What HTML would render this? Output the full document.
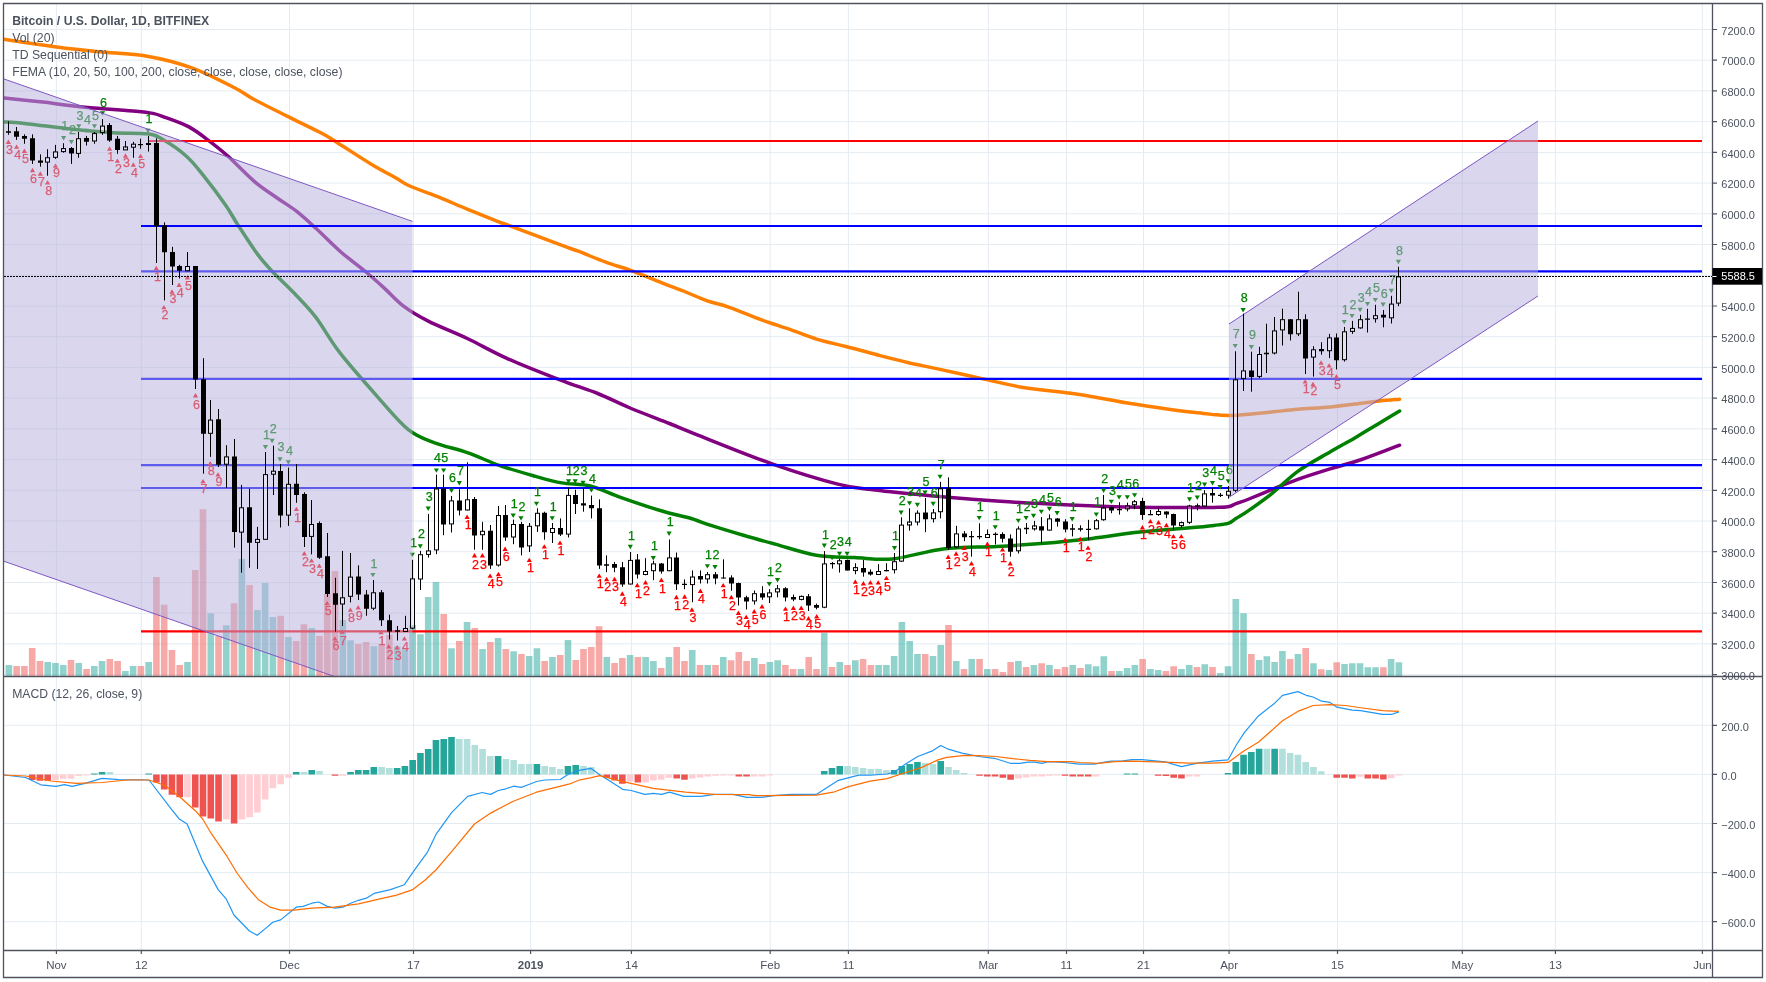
<!DOCTYPE html><html><head><meta charset="utf-8"><style>html,body{margin:0;padding:0;background:#fff;width:1766px;height:982px;overflow:hidden}</style></head><body><svg width="1766" height="982" viewBox="0 0 1766 982" style="display:block;font-family:'Liberation Sans', sans-serif;will-change:transform"><rect x="0" y="0" width="1766" height="982" fill="#ffffff"/><defs><clipPath id="cp"><rect x="4" y="4" width="1708" height="672"/></clipPath><clipPath id="cm"><rect x="4" y="677" width="1708" height="273"/></clipPath></defs><path d="M56.4 4V950 M141.3 4V950 M289.5 4V950 M413.5 4V950 M530.6 4V950 M631.4 4V950 M770.2 4V950 M848.4 4V950 M988.3 4V950 M1066.5 4V950 M1143.5 4V950 M1229.1 4V950 M1337.5 4V950 M1462.3 4V950 M1555.4 4V950 M1702.4 4V950 M4 674.6H1712 M4 643.9H1712 M4 613.2H1712 M4 582.5H1712 M4 551.7H1712 M4 521.0H1712 M4 490.3H1712 M4 459.6H1712 M4 428.9H1712 M4 398.1H1712 M4 367.4H1712 M4 336.7H1712 M4 306.0H1712 M4 275.3H1712 M4 244.5H1712 M4 213.8H1712 M4 183.1H1712 M4 152.4H1712 M4 121.7H1712 M4 90.9H1712 M4 60.2H1712 M4 29.5H1712 M4 725.3H1712 M4 774.4H1712 M4 823.5H1712 M4 872.6H1712 M4 921.7H1712" stroke="#e4ecf2" stroke-width="1" fill="none"/><g clip-path="url(#cp)"><path d="M5.58 665.0H12.18V676H5.58ZM44.41 661.9H51.01V676H44.41ZM52.17 662.9H58.77V676H52.17ZM59.94 665.0H66.54V676H59.94ZM75.47 662.9H82.07V676H75.47ZM91.00 665.9H97.60V676H91.00ZM98.76 660.9H105.36V676H98.76ZM122.06 670.9H128.66V676H122.06ZM129.83 665.9H136.43V676H129.83ZM145.36 661.9H151.96V676H145.36ZM184.18 661.9H190.78V676H184.18ZM207.48 613.3H214.08V676H207.48ZM223.01 625.2H229.61V676H223.01ZM238.54 559.0H245.14V676H238.54ZM254.07 610.0H260.67V676H254.07ZM261.84 583.0H268.44V676H261.84ZM269.60 617.0H276.20V676H269.60ZM285.13 637.0H291.73V676H285.13ZM308.43 628.0H315.03V676H308.43ZM339.49 620.0H346.09V676H339.49ZM347.26 640.2H353.86V676H347.26ZM370.55 646.2H377.15V676H370.55ZM393.85 646.2H400.45V676H393.85ZM401.61 648.8H408.21V676H401.61ZM409.38 625.1H415.98V676H409.38ZM417.14 634.2H423.74V676H417.14ZM424.91 597.1H431.51V676H424.91ZM432.67 582.1H439.27V676H432.67ZM448.20 648.2H454.80V676H448.20ZM463.74 622.1H470.34V676H463.74ZM479.27 649.0H485.87V676H479.27ZM494.80 638.1H501.40V676H494.80ZM510.33 651.2H516.93V676H510.33ZM525.86 656.1H532.46V676H525.86ZM533.62 648.2H540.22V676H533.62ZM549.15 657.0H555.75V676H549.15ZM564.68 640.1H571.28V676H564.68ZM603.51 657.0H610.11V676H603.51ZM626.81 655.0H633.41V676H626.81ZM642.34 657.0H648.94V676H642.34ZM650.10 661.0H656.70V676H650.10ZM665.63 657.0H672.23V676H665.63ZM688.93 650.1H695.53V676H688.93ZM704.46 665.1H711.06V676H704.46ZM719.99 657.0H726.59V676H719.99ZM751.05 658.1H757.65V676H751.05ZM766.58 662.1H773.18V676H766.58ZM774.35 660.2H780.95V676H774.35ZM797.65 669.0H804.25V676H797.65ZM820.94 632.8H827.54V676H820.94ZM836.47 662.1H843.07V676H836.47ZM852.00 660.2H858.60V676H852.00ZM875.30 665.1H881.90V676H875.30ZM883.06 665.1H889.66V676H883.06ZM890.83 656.0H897.43V676H890.83ZM898.59 622.1H905.19V676H898.59ZM906.36 641.0H912.96V676H906.36ZM914.13 654.0H920.73V676H914.13ZM929.66 656.0H936.26V676H929.66ZM937.42 645.0H944.02V676H937.42ZM952.95 661.0H959.55V676H952.95ZM968.48 659.0H975.08V676H968.48ZM984.01 669.0H990.61V676H984.01ZM1015.07 661.0H1021.67V676H1015.07ZM1030.61 665.1H1037.21V676H1030.61ZM1046.14 665.1H1052.74V676H1046.14ZM1069.43 665.1H1076.03V676H1069.43ZM1084.96 664.2H1091.56V676H1084.96ZM1092.73 666.2H1099.33V676H1092.73ZM1100.49 656.2H1107.09V676H1100.49ZM1116.02 671.0H1122.62V676H1116.02ZM1123.79 668.1H1130.39V676H1123.79ZM1131.55 665.1H1138.15V676H1131.55ZM1147.09 669.0H1153.69V676H1147.09ZM1154.85 670.1H1161.45V676H1154.85ZM1178.15 669.0H1184.75V676H1178.15ZM1185.91 665.1H1192.51V676H1185.91ZM1201.44 664.2H1208.04V676H1201.44ZM1216.97 673.1H1223.57V676H1216.97ZM1224.74 666.2H1231.34V676H1224.74ZM1232.50 599.1H1239.10V676H1232.50ZM1240.27 613.2H1246.87V676H1240.27ZM1255.80 660.1H1262.40V676H1255.80ZM1263.57 656.2H1270.17V676H1263.57ZM1271.33 662.0H1277.93V676H1271.33ZM1279.10 651.1H1285.70V676H1279.10ZM1294.63 654.1H1301.23V676H1294.63ZM1310.16 663.2H1316.76V676H1310.16ZM1325.69 670.1H1332.29V676H1325.69ZM1341.22 664.1H1347.82V676H1341.22ZM1348.98 663.2H1355.58V676H1348.98ZM1356.75 663.2H1363.35V676H1356.75ZM1364.51 667.2H1371.11V676H1364.51ZM1372.28 667.2H1378.88V676H1372.28ZM1387.81 659.1H1394.41V676H1387.81ZM1395.58 662.2H1402.18V676H1395.58Z" fill="#26a69a" fill-opacity="0.5"/><path d="M13.35 665.9H19.95V676H13.35ZM21.11 665.9H27.71V676H21.11ZM28.88 648.0H35.48V676H28.88ZM36.64 661.0H43.24V676H36.64ZM67.70 659.9H74.30V676H67.70ZM83.23 669.0H89.83V676H83.23ZM106.53 659.0H113.13V676H106.53ZM114.30 661.0H120.90V676H114.30ZM137.59 665.9H144.19V676H137.59ZM153.12 577.0H159.72V676H153.12ZM160.89 604.8H167.49V676H160.89ZM168.65 650.0H175.25V676H168.65ZM176.42 665.0H183.02V676H176.42ZM191.95 570.0H198.55V676H191.95ZM199.71 509.2H206.31V676H199.71ZM215.24 636.0H221.84V676H215.24ZM230.78 603.2H237.38V676H230.78ZM246.31 584.9H252.91V676H246.31ZM277.37 615.8H283.97V676H277.37ZM292.90 641.0H299.50V676H292.90ZM300.66 624.3H307.26V676H300.66ZM316.19 636.0H322.79V676H316.19ZM323.96 593.8H330.56V676H323.96ZM331.72 571.0H338.32V676H331.72ZM355.02 643.9H361.62V676H355.02ZM362.79 642.0H369.39V676H362.79ZM378.32 644.4H384.92V676H378.32ZM386.08 634.7H392.68V676H386.08ZM440.44 614.0H447.04V676H440.44ZM455.97 641.0H462.57V676H455.97ZM471.50 628.0H478.10V676H471.50ZM487.03 642.0H493.63V676H487.03ZM502.56 649.0H509.16V676H502.56ZM518.09 654.0H524.69V676H518.09ZM541.39 661.0H547.99V676H541.39ZM556.92 655.0H563.52V676H556.92ZM572.45 660.0H579.05V676H572.45ZM580.22 649.0H586.82V676H580.22ZM587.98 647.0H594.58V676H587.98ZM595.75 626.2H602.35V676H595.75ZM611.28 662.9H617.88V676H611.28ZM619.04 658.0H625.64V676H619.04ZM634.57 657.0H641.17V676H634.57ZM657.87 668.0H664.47V676H657.87ZM673.40 647.1H680.00V676H673.40ZM681.17 661.0H687.77V676H681.17ZM696.70 665.1H703.30V676H696.70ZM712.23 665.1H718.83V676H712.23ZM727.76 660.2H734.36V676H727.76ZM735.52 652.1H742.12V676H735.52ZM743.29 661.0H749.89V676H743.29ZM758.82 664.1H765.42V676H758.82ZM782.11 665.1H788.71V676H782.11ZM789.88 669.0H796.48V676H789.88ZM805.41 657.0H812.01V676H805.41ZM813.18 669.0H819.78V676H813.18ZM828.71 667.1H835.31V676H828.71ZM844.24 665.1H850.84V676H844.24ZM859.77 659.0H866.37V676H859.77ZM867.53 665.1H874.13V676H867.53ZM921.89 654.0H928.49V676H921.89ZM945.19 625.0H951.79V676H945.19ZM960.72 669.0H967.32V676H960.72ZM976.25 659.0H982.85V676H976.25ZM991.78 669.0H998.38V676H991.78ZM999.54 672.0H1006.14V676H999.54ZM1007.31 662.1H1013.91V676H1007.31ZM1022.84 667.1H1029.44V676H1022.84ZM1038.37 663.2H1044.97V676H1038.37ZM1053.90 669.0H1060.50V676H1053.90ZM1061.67 667.1H1068.27V676H1061.67ZM1077.20 668.1H1083.80V676H1077.20ZM1108.26 671.0H1114.86V676H1108.26ZM1139.32 659.0H1145.92V676H1139.32ZM1162.62 671.0H1169.22V676H1162.62ZM1170.38 666.2H1176.98V676H1170.38ZM1193.68 667.1H1200.28V676H1193.68ZM1209.21 667.1H1215.81V676H1209.21ZM1248.03 654.1H1254.63V676H1248.03ZM1286.86 659.1H1293.46V676H1286.86ZM1302.39 648.1H1308.99V676H1302.39ZM1317.92 669.2H1324.52V676H1317.92ZM1333.45 662.2H1340.05V676H1333.45ZM1380.05 667.2H1386.65V676H1380.05Z" fill="#ef5350" fill-opacity="0.5"/><path d="M4.2,39.3C12.9,40.6 40.8,44.8 56.6,46.9C72.4,49.0 84.0,50.2 99.1,51.7C114.2,53.2 131.6,53.5 147.2,56.2C162.8,58.9 177.9,62.8 192.5,68.1C207.1,73.4 225.0,82.9 235.0,88.0C245.0,93.1 243.8,93.8 252.4,98.5C261.0,103.2 275.2,110.2 286.6,115.9C298.0,121.6 312.7,128.5 320.8,132.8C328.9,137.1 326.9,136.2 335.5,141.5C344.1,146.8 361.9,158.6 372.1,164.7C382.3,170.8 390.4,174.7 396.5,178.2C402.6,181.7 401.4,182.2 408.7,185.5C415.9,188.8 430.3,193.8 440.0,197.7C449.7,201.6 457.1,205.0 467.1,209.1C477.1,213.2 493.4,219.8 500.0,222.4C506.6,225.0 496.4,220.7 506.4,224.4C516.4,228.1 548.0,240.2 560.0,244.7C572.0,249.2 570.7,248.3 578.3,251.2C585.9,254.1 596.6,258.8 605.8,262.2C615.0,265.6 624.1,267.9 633.3,271.3C642.5,274.7 652.2,278.9 660.8,282.3C669.3,285.7 677.0,288.4 684.6,291.5C692.2,294.6 699.3,298.0 706.6,300.6C713.9,303.2 719.4,303.9 728.6,307.1C737.8,310.3 751.5,316.2 761.6,319.9C771.7,323.6 779.9,325.9 789.1,329.1C798.3,332.3 807.1,336.2 816.6,339.1C826.1,342.0 835.3,343.8 845.9,346.5C856.5,349.2 869.7,352.9 880.0,355.6C890.3,358.3 897.5,360.2 907.5,362.5C917.5,364.8 926.9,366.5 940.0,369.4C953.1,372.2 972.5,376.6 986.4,379.6C1000.3,382.6 1008.0,385.0 1023.5,387.5C1039.0,390.0 1062.3,391.9 1079.3,394.5C1096.3,397.1 1110.2,400.2 1125.7,402.8C1141.2,405.4 1159.2,408.0 1172.1,409.8C1185.0,411.6 1195.9,412.6 1203.2,413.4C1210.5,414.2 1211.7,414.4 1216.0,414.8C1220.3,415.2 1225.8,415.4 1229.3,415.5C1232.8,415.6 1233.7,415.4 1237.0,415.2C1240.3,415.0 1242.9,414.8 1248.9,414.2C1255.0,413.6 1265.2,412.6 1273.3,411.8C1281.4,411.0 1288.3,410.1 1297.8,409.3C1307.3,408.5 1320.9,407.8 1330.4,406.9C1339.9,406.0 1346.7,405.1 1354.8,404.1C1362.9,403.1 1371.8,401.7 1379.3,400.9C1386.8,400.1 1396.2,399.5 1399.6,399.2" fill="none" stroke="#ff8000" stroke-width="3.5" stroke-linejoin="round" stroke-linecap="round"/><path d="M4.2,97.9C10.6,98.6 29.0,100.5 42.5,102.1C56.0,103.6 69.3,105.7 84.9,107.2C100.5,108.7 124.6,110.2 135.9,111.2C147.2,112.2 148.2,112.4 152.9,113.4C157.7,114.4 158.4,114.8 164.4,117.1C170.4,119.3 181.6,123.0 188.9,126.9C196.2,130.8 201.9,135.4 208.4,140.3C214.9,145.2 220.3,149.3 228.0,156.2C235.7,163.1 246.7,174.9 254.8,181.8C262.9,188.7 269.9,192.8 276.8,197.7C283.7,202.6 289.9,206.1 296.4,211.2C302.9,216.3 308.6,221.6 315.9,228.3C323.2,235.0 332.1,244.4 340.3,251.5C348.5,258.6 357.5,264.9 364.8,271.0C372.1,277.1 377.8,282.2 384.3,288.1C390.8,294.0 396.6,300.9 403.9,306.4C411.2,311.9 417.7,315.8 428.3,321.1C438.9,326.5 454.3,332.3 467.3,338.5C480.3,344.7 491.1,351.2 506.4,358.1C521.7,365.0 544.1,373.7 559.3,379.6C574.5,385.5 586.1,388.9 597.7,393.5C609.3,398.1 617.0,402.5 628.9,407.5C640.8,412.5 657.8,418.9 669.4,423.5C681.0,428.1 681.3,428.5 698.5,435.3C715.7,442.1 749.6,456.0 772.8,464.1C796.0,472.2 820.8,479.8 837.8,484.1C854.8,488.4 859.5,488.2 875.0,490.1C890.5,492.0 909.8,493.8 930.7,495.7C951.6,497.6 977.1,499.8 1000.3,501.3C1023.5,502.9 1046.8,504.0 1070.0,505.0C1093.2,506.0 1119.0,506.9 1139.6,507.3C1160.2,507.7 1181.3,507.5 1193.7,507.5C1206.1,507.5 1208.3,507.5 1214.0,507.4C1219.7,507.3 1224.3,507.4 1228.0,506.8C1231.7,506.2 1232.5,505.0 1236.0,503.7C1239.5,502.4 1242.7,501.5 1248.9,499.0C1255.1,496.5 1265.2,492.2 1273.3,488.9C1281.4,485.6 1288.3,482.8 1297.8,479.4C1307.3,476.0 1319.5,472.2 1330.4,468.8C1341.3,465.4 1351.5,462.9 1363.0,459.0C1374.5,455.1 1393.5,447.5 1399.6,445.2" fill="none" stroke="#800080" stroke-width="3.5" stroke-linejoin="round" stroke-linecap="round"/><path d="M4.2,121.9C8.2,122.2 17.2,122.7 28.3,123.9C39.4,125.1 56.6,127.5 70.8,129.0C85.0,130.5 100.6,131.9 113.3,132.7C126.0,133.5 139.1,132.7 147.2,133.8C155.3,134.9 155.5,135.4 162.0,139.1C168.5,142.8 179.5,150.1 186.4,156.2C193.3,162.3 197.0,167.5 203.5,175.7C210.0,183.8 219.8,196.9 225.5,205.1C231.2,213.2 232.4,216.5 237.7,224.6C243.0,232.7 251.6,246.2 257.3,253.9C263.0,261.6 265.4,264.1 271.9,271.0C278.4,277.9 289.1,287.8 296.4,295.5C303.7,303.2 308.6,307.8 315.9,317.4C323.2,327.0 329.6,339.6 340.2,353.2C350.8,366.8 367.9,386.0 379.3,398.8C390.7,411.6 399.4,422.5 408.6,429.8C417.8,437.1 424.9,439.0 434.7,442.8C444.5,446.6 456.4,448.8 467.3,452.6C478.2,456.4 488.5,461.6 499.9,465.6C511.3,469.6 525.4,473.5 535.7,476.4C546.0,479.3 552.6,481.3 561.8,482.9C571.0,484.5 581.3,483.8 591.1,486.2C600.9,488.6 608.5,493.1 620.5,497.3C632.5,501.5 651.4,507.9 662.8,511.3C674.2,514.7 680.8,515.4 688.9,517.8C697.0,520.2 702.6,522.8 711.7,525.7C720.8,528.6 732.8,532.2 743.4,535.3C754.0,538.4 762.9,540.8 775.1,544.1C787.3,547.4 803.2,553.0 816.4,555.2C829.6,557.4 841.7,556.9 854.4,557.5C867.1,558.1 877.7,560.4 892.5,559.0C907.3,557.6 925.8,551.0 943.2,548.9C960.6,546.8 980.2,547.3 997.1,546.4C1014.0,545.5 1028.9,544.5 1044.7,543.2C1060.5,541.9 1076.4,540.2 1092.2,538.4C1108.0,536.5 1123.9,533.8 1139.8,532.1C1155.7,530.4 1175.0,529.1 1187.4,528.0C1199.8,526.9 1207.2,526.2 1214.0,525.4C1220.8,524.6 1224.3,524.5 1228.0,523.4C1231.7,522.2 1232.5,520.7 1236.0,518.5C1239.5,516.3 1242.7,514.8 1248.9,510.4C1255.1,506.0 1265.2,498.9 1273.3,492.4C1281.4,485.9 1288.3,478.1 1297.8,471.3C1307.3,464.5 1320.9,457.3 1330.4,451.7C1339.9,446.1 1346.7,442.6 1354.8,437.9C1362.9,433.1 1371.8,427.7 1379.3,423.2C1386.8,418.7 1396.2,413.0 1399.6,411.0" fill="none" stroke="#008000" stroke-width="3.5" stroke-linejoin="round" stroke-linecap="round"/><path d="M149 141H1702" stroke="#ff0000" stroke-width="2.2"/><path d="M141 271.4H1702" stroke="#0000ff" stroke-width="2.2"/><path d="M141 378.8H1702" stroke="#0000ff" stroke-width="2.2"/><path d="M141 465.1H1702" stroke="#0000ff" stroke-width="2.2"/><path d="M141 488H1702" stroke="#0000ff" stroke-width="2.2"/><path d="M141 631.3H1702" stroke="#ff0000" stroke-width="2.2"/><path d="M5.8 144.0L8.4 139.6L11.0 144.0ZM14.0 148.8L16.6 144.4L19.2 148.8ZM21.8 153.0L24.4 148.6L27.0 153.0ZM29.9 172.2L32.5 167.8L35.1 172.2ZM37.7 175.7L40.3 171.3L42.9 175.7ZM45.0 184.6L47.6 180.2L50.2 184.6ZM52.9 167.8L55.5 163.4L58.1 167.8ZM107.0 150.7L109.6 146.3L112.2 150.7ZM114.8 162.8L117.4 158.4L120.0 162.8ZM122.9 157.7L125.5 153.3L128.1 157.7ZM130.7 166.7L133.3 162.3L135.9 166.7ZM138.0 158.1L140.6 153.7L143.2 158.1ZM153.7 270.2L156.3 265.8L158.9 270.2ZM161.3 309.3L163.9 304.9L166.5 309.3ZM169.4 293.7L172.0 289.3L174.6 293.7ZM176.5 286.9L179.1 282.5L181.7 286.9ZM184.8 279.5L187.4 275.1L190.0 279.5ZM192.9 397.4L195.5 393.0L198.1 397.4ZM200.4 483.3L203.0 478.9L205.6 483.3ZM207.6 465.4L210.2 461.0L212.8 465.4ZM215.4 476.6L218.0 472.2L220.6 476.6ZM293.8 511.1L296.4 506.7L299.0 511.1ZM301.7 555.4L304.3 551.0L306.9 555.4ZM308.9 562.6L311.5 558.2L314.1 562.6ZM316.7 567.8L319.3 563.4L321.9 567.8ZM324.5 605.2L327.1 600.8L329.7 605.2ZM332.3 640.6L334.9 636.2L337.5 640.6ZM339.5 633.8L342.1 629.4L344.7 633.8ZM347.8 611.8L350.4 607.4L353.0 611.8ZM355.6 609.4L358.2 605.0L360.8 609.4ZM378.4 634.2L381.0 629.8L383.6 634.2ZM386.2 648.4L388.8 644.0L391.4 648.4ZM394.5 649.4L397.1 645.0L399.7 649.4ZM401.8 640.6L404.4 636.2L407.0 640.6ZM464.5 519.0L467.1 514.6L469.7 519.0ZM471.9 557.5L474.5 553.1L477.1 557.5ZM479.8 557.5L482.4 553.1L485.0 557.5ZM487.5 577.8L490.1 573.4L492.7 577.8ZM495.8 576.2L498.4 571.8L501.0 576.2ZM502.5 550.9L505.1 546.5L507.7 550.9ZM526.7 562.1L529.3 557.7L531.9 562.1ZM541.7 548.6L544.3 544.2L546.9 548.6ZM557.4 544.8L560.0 540.4L562.6 544.8ZM596.6 577.8L599.2 573.4L601.8 577.8ZM604.0 581.2L606.6 576.8L609.2 581.2ZM611.9 581.2L614.5 576.8L617.1 581.2ZM619.7 595.7L622.3 591.3L624.9 595.7ZM634.7 587.2L637.3 582.8L639.9 587.2ZM642.9 584.5L645.5 580.1L648.1 584.5ZM658.8 581.9L661.4 577.5L664.0 581.9ZM673.8 599.2L676.4 594.8L679.0 599.2ZM682.0 598.7L684.6 594.3L687.2 598.7ZM689.3 611.7L691.9 607.3L694.5 611.7ZM697.8 593.0L700.4 588.6L703.0 593.0ZM720.6 587.3L723.2 582.9L725.8 587.3ZM728.7 599.2L731.3 594.8L733.9 599.2ZM735.8 615.0L738.4 610.6L741.0 615.0ZM743.6 619.1L746.2 614.7L748.8 619.1ZM751.6 613.4L754.2 609.0L756.8 613.4ZM759.4 608.5L762.0 604.1L764.6 608.5ZM782.9 610.8L785.5 606.4L788.1 610.8ZM790.8 609.9L793.4 605.5L796.0 609.9ZM798.6 609.9L801.2 605.5L803.8 609.9ZM805.9 620.5L808.5 616.1L811.1 620.5ZM814.1 618.5L816.7 614.1L819.3 618.5ZM852.7 583.8L855.3 579.4L857.9 583.8ZM860.8 585.4L863.4 581.0L866.0 585.4ZM867.8 584.6L870.4 580.2L873.0 584.6ZM875.6 584.6L878.2 580.2L880.8 584.6ZM883.8 580.1L886.4 575.7L889.0 580.1ZM945.6 558.9L948.2 554.5L950.8 558.9ZM953.5 555.7L956.1 551.3L958.7 555.7ZM961.6 550.0L964.2 545.6L966.8 550.0ZM968.9 565.4L971.5 561.0L974.1 565.4ZM984.8 545.9L987.4 541.5L990.0 545.9ZM999.9 551.6L1002.5 547.2L1005.1 551.6ZM1007.6 565.4L1010.2 561.0L1012.8 565.4ZM1062.6 541.8L1065.2 537.4L1067.8 541.8ZM1077.6 541.0L1080.2 536.6L1082.8 541.0ZM1085.4 549.8L1088.0 545.4L1090.6 549.8ZM1139.8 529.4L1142.4 525.0L1145.0 529.4ZM1147.8 523.3L1150.4 518.9L1153.0 523.3ZM1155.9 524.5L1158.5 520.1L1161.1 524.5ZM1163.8 527.2L1166.4 522.8L1169.0 527.2ZM1170.8 538.3L1173.4 533.9L1176.0 538.3ZM1178.7 538.3L1181.3 533.9L1183.9 538.3ZM1302.6 383.6L1305.2 379.2L1307.8 383.6ZM1310.4 386.2L1313.0 381.8L1315.6 386.2ZM1318.5 364.7L1321.1 360.3L1323.7 364.7ZM1326.5 367.6L1329.1 363.2L1331.7 367.6ZM1333.8 378.5L1336.4 374.1L1339.0 378.5Z" fill="#ff0000"/><path d="M61.0 136.0L63.6 140.4L66.2 136.0ZM68.8 139.9L71.4 144.3L74.0 139.9ZM76.2 124.2L78.8 128.6L81.4 124.2ZM83.9 128.7L86.5 133.1L89.1 128.7ZM91.9 124.2L94.5 128.6L97.1 124.2ZM99.9 111.3L102.5 115.7L105.1 111.3ZM145.4 128.7L148.0 133.1L150.6 128.7ZM262.8 445.0L265.4 449.4L268.0 445.0ZM269.5 438.8L272.1 443.2L274.7 438.8ZM277.4 457.3L280.0 461.7L282.6 457.3ZM285.7 460.2L288.3 464.6L290.9 460.2ZM370.3 572.9L372.9 577.3L375.5 572.9ZM409.7 552.7L412.3 557.1L414.9 552.7ZM417.7 544.2L420.3 548.6L422.9 544.2ZM425.6 506.5L428.2 510.9L430.8 506.5ZM433.8 468.4L436.4 472.8L439.0 468.4ZM441.0 468.4L443.6 472.8L446.2 468.4ZM448.9 488.6L451.5 493.0L454.1 488.6ZM456.7 481.0L459.3 485.4L461.9 481.0ZM510.6 513.5L513.2 517.9L515.8 513.5ZM518.4 516.2L521.0 520.6L523.6 516.2ZM533.9 501.7L536.5 506.1L539.1 501.7ZM549.6 516.2L552.2 520.6L554.8 516.2ZM565.9 479.3L568.5 483.7L571.1 479.3ZM572.6 479.3L575.2 483.7L577.8 479.3ZM580.4 480.8L583.0 485.2L585.6 480.8ZM588.8 488.2L591.4 492.6L594.0 488.2ZM627.7 544.8L630.3 549.2L632.9 544.8ZM650.7 556.0L653.3 560.4L655.9 556.0ZM666.5 531.6L669.1 536.0L671.7 531.6ZM704.8 564.2L707.4 568.6L710.0 564.2ZM712.4 565.0L715.0 569.4L717.6 565.0ZM766.7 582.1L769.3 586.5L771.9 582.1ZM774.9 578.0L777.5 582.4L780.1 578.0ZM821.7 543.6L824.3 548.0L826.9 543.6ZM829.5 555.8L832.1 560.2L834.7 555.8ZM836.9 551.7L839.5 556.1L842.1 551.7ZM844.5 551.7L847.1 556.1L849.7 551.7ZM891.9 546.0L894.5 550.4L897.1 546.0ZM898.5 510.5L901.1 514.9L903.7 510.5ZM906.9 501.2L909.5 505.6L912.1 501.2ZM914.8 502.8L917.4 507.2L920.0 502.8ZM922.4 490.6L925.0 495.0L927.6 490.6ZM930.6 501.8L933.2 506.2L935.8 501.8ZM937.5 474.7L940.1 479.1L942.7 474.7ZM976.6 515.9L979.2 520.3L981.8 515.9ZM992.6 525.2L995.2 529.6L997.8 525.2ZM1015.7 518.7L1018.3 523.1L1020.9 518.7ZM1023.5 515.9L1026.1 520.3L1028.7 515.9ZM1030.9 513.8L1033.5 518.2L1036.1 513.8ZM1038.7 509.7L1041.3 514.1L1043.9 509.7ZM1046.8 506.8L1049.4 511.2L1052.0 506.8ZM1054.5 511.0L1057.1 515.4L1059.7 511.0ZM1069.6 517.0L1072.2 521.4L1074.8 517.0ZM1093.7 512.4L1096.3 516.8L1098.9 512.4ZM1101.0 488.6L1103.6 493.0L1106.2 488.6ZM1108.7 499.7L1111.3 504.1L1113.9 499.7ZM1116.5 495.2L1119.1 499.6L1121.7 495.2ZM1124.7 495.2L1127.3 499.6L1129.9 495.2ZM1132.0 493.2L1134.6 497.6L1137.2 493.2ZM1186.9 497.3L1189.5 501.7L1192.1 497.3ZM1194.7 495.6L1197.3 500.0L1199.9 495.6ZM1202.0 482.6L1204.6 487.0L1207.2 482.6ZM1209.9 481.0L1212.5 485.4L1215.1 481.0ZM1217.5 485.1L1220.1 489.5L1222.7 485.1ZM1225.7 479.3L1228.3 483.7L1230.9 479.3ZM1232.6 343.9L1235.2 348.3L1237.8 343.9ZM1240.5 308.1L1243.1 312.5L1245.7 308.1ZM1248.8 345.1L1251.4 349.5L1254.0 345.1ZM1341.6 319.9L1344.2 324.3L1346.8 319.9ZM1349.4 313.9L1352.0 318.3L1354.6 313.9ZM1357.5 307.8L1360.1 312.2L1362.7 307.8ZM1364.9 301.9L1367.5 306.3L1370.1 301.9ZM1372.7 297.9L1375.3 302.3L1377.9 297.9ZM1380.5 302.6L1383.1 307.0L1385.7 302.6ZM1388.7 288.8L1391.3 293.2L1393.9 288.8ZM1395.8 259.8L1398.4 264.2L1401.0 259.8Z" fill="#008000"/><g font-size="12.5" stroke-width="0.25" lengthAdjust="spacingAndGlyphs"><text x="6.0" y="154.4" fill="#ff0000" stroke="#ff0000" textLength="4.8">3</text><text x="14.2" y="159.4" fill="#ff0000" stroke="#ff0000" textLength="4.8">4</text><text x="22.0" y="163.4" fill="#ff0000" stroke="#ff0000" textLength="4.8">5</text><text x="30.1" y="182.9" fill="#ff0000" stroke="#ff0000" textLength="4.8">6</text><text x="37.9" y="185.7" fill="#ff0000" stroke="#ff0000" textLength="4.8">7</text><text x="45.2" y="194.7" fill="#ff0000" stroke="#ff0000" textLength="4.8">8</text><text x="53.1" y="177.3" fill="#ff0000" stroke="#ff0000" textLength="4.8">9</text><text x="107.2" y="161.1" fill="#ff0000" stroke="#ff0000" textLength="4.8">1</text><text x="115.0" y="172.8" fill="#ff0000" stroke="#ff0000" textLength="4.8">2</text><text x="123.1" y="167.2" fill="#ff0000" stroke="#ff0000" textLength="4.8">3</text><text x="130.9" y="176.8" fill="#ff0000" stroke="#ff0000" textLength="4.8">4</text><text x="138.2" y="167.8" fill="#ff0000" stroke="#ff0000" textLength="4.8">5</text><text x="153.9" y="281.3" fill="#ff0000" stroke="#ff0000" textLength="4.8">1</text><text x="161.5" y="319.4" fill="#ff0000" stroke="#ff0000" textLength="4.8">2</text><text x="169.6" y="303.3" fill="#ff0000" stroke="#ff0000" textLength="4.8">3</text><text x="176.7" y="297.4" fill="#ff0000" stroke="#ff0000" textLength="4.8">4</text><text x="185.0" y="289.8" fill="#ff0000" stroke="#ff0000" textLength="4.8">5</text><text x="193.1" y="408.6" fill="#ff0000" stroke="#ff0000" textLength="4.8">6</text><text x="200.6" y="493.1" fill="#ff0000" stroke="#ff0000" textLength="4.8">7</text><text x="207.8" y="475.4" fill="#ff0000" stroke="#ff0000" textLength="4.8">8</text><text x="215.6" y="486.4" fill="#ff0000" stroke="#ff0000" textLength="4.8">9</text><text x="294.0" y="521.8" fill="#ff0000" stroke="#ff0000" textLength="4.8">1</text><text x="301.9" y="566.2" fill="#ff0000" stroke="#ff0000" textLength="4.8">2</text><text x="309.1" y="572.9" fill="#ff0000" stroke="#ff0000" textLength="4.8">3</text><text x="316.9" y="577.8" fill="#ff0000" stroke="#ff0000" textLength="4.8">4</text><text x="324.7" y="615.4" fill="#ff0000" stroke="#ff0000" textLength="4.8">5</text><text x="332.5" y="650.4" fill="#ff0000" stroke="#ff0000" textLength="4.8">6</text><text x="339.7" y="644.6" fill="#ff0000" stroke="#ff0000" textLength="4.8">7</text><text x="348.0" y="622.2" fill="#ff0000" stroke="#ff0000" textLength="4.8">8</text><text x="355.8" y="619.5" fill="#ff0000" stroke="#ff0000" textLength="4.8">9</text><text x="378.6" y="645.1" fill="#ff0000" stroke="#ff0000" textLength="4.8">1</text><text x="386.4" y="658.7" fill="#ff0000" stroke="#ff0000" textLength="4.8">2</text><text x="394.7" y="659.8" fill="#ff0000" stroke="#ff0000" textLength="4.8">3</text><text x="402.0" y="650.6" fill="#ff0000" stroke="#ff0000" textLength="4.8">4</text><text x="464.7" y="529.4" fill="#ff0000" stroke="#ff0000" textLength="4.8">1</text><text x="472.1" y="568.7" fill="#ff0000" stroke="#ff0000" textLength="4.8">2</text><text x="480.0" y="568.7" fill="#ff0000" stroke="#ff0000" textLength="4.8">3</text><text x="487.7" y="587.8" fill="#ff0000" stroke="#ff0000" textLength="4.8">4</text><text x="496.0" y="586.0" fill="#ff0000" stroke="#ff0000" textLength="4.8">5</text><text x="502.7" y="560.9" fill="#ff0000" stroke="#ff0000" textLength="4.8">6</text><text x="526.9" y="572.1" fill="#ff0000" stroke="#ff0000" textLength="4.8">1</text><text x="541.9" y="558.7" fill="#ff0000" stroke="#ff0000" textLength="4.8">1</text><text x="557.6" y="554.7" fill="#ff0000" stroke="#ff0000" textLength="4.8">1</text><text x="596.8" y="587.8" fill="#ff0000" stroke="#ff0000" textLength="4.8">1</text><text x="604.2" y="591.2" fill="#ff0000" stroke="#ff0000" textLength="4.8">2</text><text x="612.1" y="591.2" fill="#ff0000" stroke="#ff0000" textLength="4.8">3</text><text x="619.9" y="605.7" fill="#ff0000" stroke="#ff0000" textLength="4.8">4</text><text x="634.9" y="598.4" fill="#ff0000" stroke="#ff0000" textLength="4.8">1</text><text x="643.1" y="595.2" fill="#ff0000" stroke="#ff0000" textLength="4.8">2</text><text x="659.0" y="592.7" fill="#ff0000" stroke="#ff0000" textLength="4.8">1</text><text x="674.0" y="609.9" fill="#ff0000" stroke="#ff0000" textLength="4.8">1</text><text x="682.2" y="609.0" fill="#ff0000" stroke="#ff0000" textLength="4.8">2</text><text x="689.5" y="622.1" fill="#ff0000" stroke="#ff0000" textLength="4.8">3</text><text x="698.0" y="603.3" fill="#ff0000" stroke="#ff0000" textLength="4.8">4</text><text x="720.8" y="598.4" fill="#ff0000" stroke="#ff0000" textLength="4.8">1</text><text x="728.9" y="609.9" fill="#ff0000" stroke="#ff0000" textLength="4.8">2</text><text x="736.0" y="624.5" fill="#ff0000" stroke="#ff0000" textLength="4.8">3</text><text x="743.8" y="628.6" fill="#ff0000" stroke="#ff0000" textLength="4.8">4</text><text x="751.8" y="623.7" fill="#ff0000" stroke="#ff0000" textLength="4.8">5</text><text x="759.6" y="618.8" fill="#ff0000" stroke="#ff0000" textLength="4.8">6</text><text x="783.1" y="620.7" fill="#ff0000" stroke="#ff0000" textLength="4.8">1</text><text x="791.0" y="620.2" fill="#ff0000" stroke="#ff0000" textLength="4.8">2</text><text x="798.8" y="620.2" fill="#ff0000" stroke="#ff0000" textLength="4.8">3</text><text x="806.1" y="629.2" fill="#ff0000" stroke="#ff0000" textLength="4.8">4</text><text x="814.3" y="628.4" fill="#ff0000" stroke="#ff0000" textLength="4.8">5</text><text x="852.9" y="594.2" fill="#ff0000" stroke="#ff0000" textLength="4.8">1</text><text x="861.0" y="595.8" fill="#ff0000" stroke="#ff0000" textLength="4.8">2</text><text x="868.0" y="595.0" fill="#ff0000" stroke="#ff0000" textLength="4.8">3</text><text x="875.8" y="595.0" fill="#ff0000" stroke="#ff0000" textLength="4.8">4</text><text x="884.0" y="590.9" fill="#ff0000" stroke="#ff0000" textLength="4.8">5</text><text x="945.8" y="569.3" fill="#ff0000" stroke="#ff0000" textLength="4.8">1</text><text x="953.7" y="566.0" fill="#ff0000" stroke="#ff0000" textLength="4.8">2</text><text x="961.8" y="561.1" fill="#ff0000" stroke="#ff0000" textLength="4.8">3</text><text x="969.1" y="575.8" fill="#ff0000" stroke="#ff0000" textLength="4.8">4</text><text x="985.0" y="556.2" fill="#ff0000" stroke="#ff0000" textLength="4.8">1</text><text x="1000.1" y="561.9" fill="#ff0000" stroke="#ff0000" textLength="4.8">1</text><text x="1007.8" y="575.8" fill="#ff0000" stroke="#ff0000" textLength="4.8">2</text><text x="1062.8" y="552.2" fill="#ff0000" stroke="#ff0000" textLength="4.8">1</text><text x="1077.8" y="551.4" fill="#ff0000" stroke="#ff0000" textLength="4.8">1</text><text x="1085.6" y="560.6" fill="#ff0000" stroke="#ff0000" textLength="4.8">2</text><text x="1140.0" y="538.9" fill="#ff0000" stroke="#ff0000" textLength="4.8">1</text><text x="1148.0" y="534.0" fill="#ff0000" stroke="#ff0000" textLength="4.8">2</text><text x="1156.1" y="534.8" fill="#ff0000" stroke="#ff0000" textLength="4.8">3</text><text x="1164.0" y="537.6" fill="#ff0000" stroke="#ff0000" textLength="4.8">4</text><text x="1171.0" y="548.7" fill="#ff0000" stroke="#ff0000" textLength="4.8">5</text><text x="1178.9" y="548.7" fill="#ff0000" stroke="#ff0000" textLength="4.8">6</text><text x="1302.8" y="392.9" fill="#ff0000" stroke="#ff0000" textLength="4.8">1</text><text x="1310.6" y="395.4" fill="#ff0000" stroke="#ff0000" textLength="4.8">2</text><text x="1318.7" y="375.0" fill="#ff0000" stroke="#ff0000" textLength="4.8">3</text><text x="1326.7" y="377.3" fill="#ff0000" stroke="#ff0000" textLength="4.8">4</text><text x="1334.0" y="388.9" fill="#ff0000" stroke="#ff0000" textLength="4.8">5</text><text x="61.2" y="129.7" fill="#008000" stroke="#008000" textLength="4.8">1</text><text x="69.0" y="133.6" fill="#008000" stroke="#008000" textLength="4.8">2</text><text x="76.4" y="119.6" fill="#008000" stroke="#008000" textLength="4.8">3</text><text x="84.1" y="123.5" fill="#008000" stroke="#008000" textLength="4.8">4</text><text x="92.1" y="119.6" fill="#008000" stroke="#008000" textLength="4.8">5</text><text x="100.1" y="106.7" fill="#008000" stroke="#008000" textLength="4.8">6</text><text x="145.6" y="123.0" fill="#008000" stroke="#008000" textLength="4.8">1</text><text x="263.0" y="439.3" fill="#008000" stroke="#008000" textLength="4.8">1</text><text x="269.7" y="432.6" fill="#008000" stroke="#008000" textLength="4.8">2</text><text x="277.6" y="451.2" fill="#008000" stroke="#008000" textLength="4.8">3</text><text x="285.9" y="455.0" fill="#008000" stroke="#008000" textLength="4.8">4</text><text x="370.5" y="567.6" fill="#008000" stroke="#008000" textLength="4.8">1</text><text x="409.9" y="547.4" fill="#008000" stroke="#008000" textLength="4.8">1</text><text x="417.9" y="538.4" fill="#008000" stroke="#008000" textLength="4.8">2</text><text x="425.8" y="501.0" fill="#008000" stroke="#008000" textLength="4.8">3</text><text x="434.0" y="462.2" fill="#008000" stroke="#008000" textLength="4.8">4</text><text x="441.2" y="462.2" fill="#008000" stroke="#008000" textLength="4.8">5</text><text x="449.1" y="482.4" fill="#008000" stroke="#008000" textLength="4.8">6</text><text x="456.9" y="475.0" fill="#008000" stroke="#008000" textLength="4.8">7</text><text x="510.8" y="507.8" fill="#008000" stroke="#008000" textLength="4.8">1</text><text x="518.6" y="510.5" fill="#008000" stroke="#008000" textLength="4.8">2</text><text x="534.1" y="495.5" fill="#008000" stroke="#008000" textLength="4.8">1</text><text x="549.8" y="510.5" fill="#008000" stroke="#008000" textLength="4.8">1</text><text x="566.1" y="475.3" fill="#008000" stroke="#008000" textLength="4.8">1</text><text x="572.8" y="475.3" fill="#008000" stroke="#008000" textLength="4.8">2</text><text x="580.6" y="475.3" fill="#008000" stroke="#008000" textLength="4.8">3</text><text x="589.0" y="482.5" fill="#008000" stroke="#008000" textLength="4.8">4</text><text x="627.9" y="539.6" fill="#008000" stroke="#008000" textLength="4.8">1</text><text x="650.9" y="550.4" fill="#008000" stroke="#008000" textLength="4.8">1</text><text x="666.7" y="525.9" fill="#008000" stroke="#008000" textLength="4.8">1</text><text x="705.0" y="558.5" fill="#008000" stroke="#008000" textLength="4.8">1</text><text x="712.6" y="559.4" fill="#008000" stroke="#008000" textLength="4.8">2</text><text x="766.9" y="576.4" fill="#008000" stroke="#008000" textLength="4.8">1</text><text x="775.1" y="572.4" fill="#008000" stroke="#008000" textLength="4.8">2</text><text x="821.9" y="538.8" fill="#008000" stroke="#008000" textLength="4.8">1</text><text x="829.7" y="548.5" fill="#008000" stroke="#008000" textLength="4.8">2</text><text x="837.1" y="546.1" fill="#008000" stroke="#008000" textLength="4.8">3</text><text x="844.7" y="546.1" fill="#008000" stroke="#008000" textLength="4.8">4</text><text x="892.1" y="540.4" fill="#008000" stroke="#008000" textLength="4.8">1</text><text x="898.7" y="504.5" fill="#008000" stroke="#008000" textLength="4.8">2</text><text x="907.1" y="495.6" fill="#008000" stroke="#008000" textLength="4.8">3</text><text x="915.0" y="497.2" fill="#008000" stroke="#008000" textLength="4.8">4</text><text x="922.6" y="485.5" fill="#008000" stroke="#008000" textLength="4.8">5</text><text x="930.8" y="496.8" fill="#008000" stroke="#008000" textLength="4.8">6</text><text x="937.7" y="469.1" fill="#008000" stroke="#008000" textLength="4.8">7</text><text x="976.8" y="510.6" fill="#008000" stroke="#008000" textLength="4.8">1</text><text x="992.8" y="519.6" fill="#008000" stroke="#008000" textLength="4.8">1</text><text x="1015.9" y="513.1" fill="#008000" stroke="#008000" textLength="4.8">1</text><text x="1023.7" y="510.6" fill="#008000" stroke="#008000" textLength="4.8">2</text><text x="1031.1" y="508.2" fill="#008000" stroke="#008000" textLength="4.8">3</text><text x="1038.9" y="504.1" fill="#008000" stroke="#008000" textLength="4.8">4</text><text x="1047.0" y="501.6" fill="#008000" stroke="#008000" textLength="4.8">5</text><text x="1054.7" y="505.7" fill="#008000" stroke="#008000" textLength="4.8">6</text><text x="1069.8" y="511.4" fill="#008000" stroke="#008000" textLength="4.8">1</text><text x="1093.9" y="506.3" fill="#008000" stroke="#008000" textLength="4.8">1</text><text x="1101.2" y="482.7" fill="#008000" stroke="#008000" textLength="4.8">2</text><text x="1108.9" y="494.9" fill="#008000" stroke="#008000" textLength="4.8">3</text><text x="1116.7" y="488.7" fill="#008000" stroke="#008000" textLength="4.8">4</text><text x="1124.9" y="487.6" fill="#008000" stroke="#008000" textLength="4.8">5</text><text x="1132.2" y="487.6" fill="#008000" stroke="#008000" textLength="4.8">6</text><text x="1187.1" y="491.7" fill="#008000" stroke="#008000" textLength="4.8">1</text><text x="1194.9" y="490.4" fill="#008000" stroke="#008000" textLength="4.8">2</text><text x="1202.2" y="477.3" fill="#008000" stroke="#008000" textLength="4.8">3</text><text x="1210.1" y="475.4" fill="#008000" stroke="#008000" textLength="4.8">4</text><text x="1217.7" y="480.2" fill="#008000" stroke="#008000" textLength="4.8">5</text><text x="1225.9" y="473.7" fill="#008000" stroke="#008000" textLength="4.8">6</text><text x="1232.8" y="337.8" fill="#008000" stroke="#008000" textLength="4.8">7</text><text x="1240.7" y="301.9" fill="#008000" stroke="#008000" textLength="4.8">8</text><text x="1249.0" y="338.7" fill="#008000" stroke="#008000" textLength="4.8">9</text><text x="1341.8" y="314.4" fill="#008000" stroke="#008000" textLength="4.8">1</text><text x="1349.6" y="308.5" fill="#008000" stroke="#008000" textLength="4.8">2</text><text x="1357.7" y="301.9" fill="#008000" stroke="#008000" textLength="4.8">3</text><text x="1365.1" y="296.4" fill="#008000" stroke="#008000" textLength="4.8">4</text><text x="1372.9" y="292.4" fill="#008000" stroke="#008000" textLength="4.8">5</text><text x="1380.7" y="297.6" fill="#008000" stroke="#008000" textLength="4.8">6</text><text x="1388.9" y="283.8" fill="#008000" stroke="#008000" textLength="4.8">7</text><text x="1396.0" y="254.8" fill="#008000" stroke="#008000" textLength="4.8">8</text></g><path d="M4 79L412.5 221.4L412.5 703.7L4 561.3Z" fill="#b7b0dc" fill-opacity="0.52"/><path d="M4 79L412.5 221.4M4 561.3L412.5 703.7" stroke="#7e57c2" stroke-width="1" fill="none"/><path d="M1229 324L1538 121L1538 296L1229 497.3Z" fill="#b7b0dc" fill-opacity="0.52"/><path d="M1229 324L1538 121M1229 497.3L1538 296" stroke="#7e57c2" stroke-width="1" fill="none"/><path d="M141 226H1702" stroke="#0000ff" stroke-width="2.2"/><path d="M8.50 121.4V134.8M16.50 127.0V139.9M24.50 134.3V143.8M32.50 134.3V164.0M40.50 154.4V166.7M47.50 149.2V157.7M47.50 162.1V175.7M55.50 144.9V151.9M55.50 157.3V158.9M63.50 143.2V149.0M63.50 151.1V152.7M71.50 147.1V163.9M78.50 132.0V138.7M78.50 153.4V157.8M86.50 135.9V145.5M94.50 132.0V133.6M94.50 141.0V143.8M102.50 119.1V126.1M102.50 132.6V134.8M109.50 123.0V141.8M117.50 135.9V153.9M125.50 141.0V147.9M125.50 148.9V149.4M133.50 141.8V144.5M133.50 146.9V157.8M140.50 138.7V148.8M148.50 136.0V151.6M156.50 138.3V263.0M164.50 222.3V300.4M172.50 246.8V285.0M179.50 264.8V278.5M187.50 252.0V266.5M187.50 270.8V271.3M195.50 266.0V389.0M203.50 358.2V473.7M210.50 400.0V420.1M210.50 433.3V456.9M218.50 409.0V467.0M226.50 445.2V456.9M226.50 464.2V487.8M234.50 439.0V547.6M241.50 484.9V507.8M241.50 532.1V572.7M249.50 488.7V567.8M257.50 526.8V539.5M257.50 542.2V569.0M265.50 452.0V474.6M265.50 539.3V539.8M273.50 445.7V471.5M273.50 473.9V495.0M280.50 464.0V527.5M288.50 467.6V484.3M288.50 515.1V525.9M296.50 464.0V502.8M304.50 492.3V547.0M311.50 500.0V524.5M311.50 536.4V554.4M319.50 521.4V558.9M327.50 533.0V597.0M335.50 577.8V631.6M342.50 550.9V597.8M342.50 604.0V626.0M350.50 553.0V577.1M350.50 596.3V602.4M358.50 565.4V600.0M366.50 590.0V615.8M373.50 580.0V592.8M373.50 608.2V610.2M381.50 590.0V626.0M389.50 614.7V639.4M397.50 626.0V640.5M405.50 615.8V629.1M405.50 631.0V631.5M412.50 559.8V578.9M412.50 628.1V629.3M420.50 550.8V554.7M420.50 579.0V590.0M428.50 513.9V550.9M428.50 554.4V557.6M436.50 474.6V489.0M436.50 549.9V554.2M443.50 474.6V535.2M451.50 496.0V500.9M451.50 523.9V532.5M459.50 489.2V515.4M467.50 462.3V499.8M467.50 510.0V510.5M474.50 497.0V549.7M482.50 521.8V531.3M482.50 534.7V549.8M490.50 525.0V568.9M498.50 506.0V515.5M498.50 565.0V566.6M505.50 505.0V540.8M513.50 519.6V524.5M513.50 537.0V544.2M521.50 521.8V555.4M529.50 523.0V526.3M529.50 545.9V552.0M537.50 508.3V513.3M537.50 525.8V531.9M544.50 511.7V539.7M552.50 523.0V528.5M552.50 532.5V543.0M560.50 518.4V536.0M568.50 487.5V495.4M568.50 534.1V537.5M575.50 489.7V514.0M583.50 488.2V511.7M591.50 495.6V518.4M599.50 499.4V568.9M606.50 555.4V572.2M614.50 562.1V572.2M622.50 562.0V586.8M630.50 552.0V560.4M630.50 584.0V584.5M637.50 554.0V578.6M645.50 558.2V572.1M645.50 574.0V575.3M653.50 560.7V563.9M653.50 570.7V580.2M661.50 563.0V573.7M669.50 539.5V557.9M669.50 570.7V571.2M676.50 552.5V590.0M684.50 579.4V589.2M692.50 570.4V577.0M692.50 584.6V602.2M700.50 570.4V583.5M707.50 572.0V574.7M707.50 578.9V583.5M715.50 572.0V584.3M723.50 559.3V578.6M731.50 575.3V590.8M738.50 582.6V605.5M746.50 595.7V609.5M754.50 590.5V593.7M754.50 600.9V604.6M762.50 586.2V599.8M769.50 589.2V592.9M769.50 596.8V603.0M777.50 585.0V588.8M777.50 591.9V597.3M785.50 587.2V601.4M793.50 594.6V601.2M801.50 595.5V596.8M801.50 599.0V600.3M808.50 594.0V611.0M816.50 603.6V609.3M824.50 551.1V563.9M824.50 607.2V608.2M832.50 562.0V568.6M839.50 558.8V560.9M839.50 563.7V572.6M847.50 559.6V570.5M855.50 563.2V568.5M855.50 569.7V574.3M863.50 560.0V576.7M870.50 569.4V575.6M878.50 564.2V571.8M878.50 574.1V575.0M886.50 563.2V571.3M894.50 553.0V561.7M894.50 569.7V573.5M901.50 517.3V525.1M901.50 561.1V562.0M909.50 508.3V523.0M909.50 524.1V530.6M917.50 510.4V513.2M917.50 522.0V525.4M925.50 498.0V532.2M933.50 509.0V512.9M933.50 518.7V522.5M940.50 481.8V488.8M940.50 511.7V518.4M948.50 477.4V549.7M956.50 525.8V533.9M956.50 546.9V547.8M964.50 531.1V541.2M971.50 531.0V556.7M979.50 523.3V539.3M987.50 529.5V534.9M987.50 537.0V538.0M995.50 532.3V544.5M1002.50 532.3V542.5M1010.50 534.4V556.7M1018.50 526.3V529.0M1018.50 550.8V553.5M1026.50 523.0V534.0M1034.50 520.9V526.8M1034.50 528.0V530.6M1041.50 517.1V543.7M1049.50 514.4V518.9M1049.50 530.1V530.6M1057.50 518.0V526.6M1065.50 519.2V532.3M1072.50 524.1V536.4M1080.50 525.3V531.5M1088.50 519.8V540.2M1096.50 519.0V520.7M1096.50 528.8V529.6M1103.50 495.0V508.1M1103.50 519.7V520.7M1111.50 506.5V513.3M1119.50 502.2V514.6M1127.50 502.7V506.2M1127.50 508.7V511.4M1134.50 500.0V502.1M1134.50 504.3V509.2M1142.50 497.8V519.8M1150.50 510.0V515.0M1158.50 508.4V511.9M1158.50 514.1V515.8M1166.50 511.4V518.2M1173.50 513.6V529.6M1181.50 521.5V523.3M1181.50 525.0V528.0M1189.50 504.8V506.0M1189.50 522.3V523.9M1197.50 503.5V510.4M1204.50 490.2V493.9M1204.50 506.0V507.1M1212.50 488.0V502.7M1220.50 493.0V497.0M1228.50 486.0V491.3M1228.50 495.2V498.6M1235.50 351.3V379.8M1235.50 490.3V492.0M1243.50 313.6V370.9M1243.50 378.6V391.0M1251.50 351.7V391.7M1259.50 346.8V354.5M1259.50 376.4V378.2M1266.50 323.7V373.0M1274.50 317.0V330.9M1274.50 353.0V354.4M1282.50 308.7V319.7M1282.50 329.9V345.5M1290.50 319.2V340.5M1298.50 291.7V319.7M1298.50 333.8V336.0M1305.50 314.3V374.0M1313.50 346.2V349.8M1313.50 357.1V376.6M1321.50 342.2V354.7M1329.50 333.9V337.9M1329.50 350.7V358.1M1336.50 333.5V369.4M1344.50 327.0V331.8M1344.50 359.7V361.6M1352.50 320.9V328.9M1352.50 330.8V333.9M1360.50 314.8V319.7M1360.50 327.9V328.7M1367.50 308.8V332.5M1375.50 304.8V315.7M1375.50 318.7V322.6M1383.50 310.0V327.3M1391.50 295.8V304.1M1391.50 317.8V323.5M1398.50 266.7V276.9M1398.50 303.1V306.2" stroke="#000" stroke-width="1" fill="none"/><path d="M14.00 131.2H19.00V136.8H14.00ZM22.00 136.0H27.00V138.7H22.00ZM30.00 138.2H35.00V160.6H30.00ZM38.00 160.4H43.00V162.8H38.00ZM69.00 148.0H74.00V153.6H69.00ZM84.00 138.0H89.00V141.8H84.00ZM107.00 125.0H112.00V140.6H107.00ZM115.00 138.7H120.00V150.0H115.00ZM146.00 142.9H151.00V144.9H146.00ZM154.00 142.9H159.00V225.9H154.00ZM162.00 225.4H167.00V252.3H162.00ZM170.00 252.0H175.00V266.6H170.00ZM177.00 266.0H182.00V270.7H177.00ZM193.00 266.1H198.00V379.5H193.00ZM201.00 379.3H206.00V433.8H201.00ZM216.00 419.2H221.00V464.7H216.00ZM232.00 456.4H237.00V532.0H232.00ZM247.00 507.3H252.00V542.7H247.00ZM278.00 471.0H283.00V515.6H278.00ZM294.00 483.8H299.00V495.0H294.00ZM302.00 493.9H307.00V536.9H302.00ZM317.00 523.0H322.00V557.7H317.00ZM325.00 556.2H330.00V594.0H325.00ZM333.00 593.3H338.00V604.7H333.00ZM356.00 576.6H361.00V594.5H356.00ZM364.00 594.5H369.00V608.7H364.00ZM379.00 592.3H384.00V620.3H379.00ZM387.00 620.3H392.00V631.5H387.00ZM441.00 488.5H446.00V524.4H441.00ZM457.00 500.4H462.00V510.5H457.00ZM472.00 498.9H477.00V535.6H472.00ZM488.00 530.8H493.00V565.5H488.00ZM503.00 515.0H508.00V537.5H503.00ZM519.00 524.0H524.00V547.6H519.00ZM542.00 512.8H547.00V532.3H542.00ZM558.00 528.0H563.00V534.6H558.00ZM573.00 494.9H578.00V503.9H573.00ZM581.00 503.2H586.00V505.4H581.00ZM589.00 505.0H594.00V508.3H589.00ZM597.00 508.3H602.00V565.5H597.00ZM612.00 563.9H617.00V567.7H612.00ZM620.00 567.3H625.00V584.5H620.00ZM635.00 559.5H640.00V574.5H635.00ZM659.00 563.4H664.00V571.6H659.00ZM674.00 557.4H679.00V584.3H674.00ZM698.00 576.1H703.00V579.4H698.00ZM713.00 574.2H718.00V578.6H713.00ZM721.00 577.4H726.00V578.6H721.00ZM729.00 577.4H734.00V583.5H729.00ZM736.00 583.1H741.00V597.6H736.00ZM744.00 597.3H749.00V601.4H744.00ZM760.00 593.2H765.00V597.6H760.00ZM783.00 588.3H788.00V597.6H783.00ZM791.00 597.0H796.00V599.5H791.00ZM806.00 596.3H811.00V605.6H806.00ZM814.00 605.0H819.00V607.7H814.00ZM845.00 560.0H850.00V570.5H845.00ZM861.00 568.0H866.00V572.6H861.00ZM868.00 571.8H873.00V574.6H868.00ZM923.00 512.4H928.00V519.2H923.00ZM946.00 488.3H951.00V548.0H946.00ZM962.00 533.4H967.00V537.2H962.00ZM1000.00 534.0H1005.00V538.8H1000.00ZM1008.00 538.5H1013.00V551.8H1008.00ZM1039.00 526.3H1044.00V530.6H1039.00ZM1055.00 518.4H1060.00V521.7H1055.00ZM1063.00 521.4H1068.00V529.5H1063.00ZM1109.00 507.1H1114.00V510.4H1109.00ZM1140.00 501.1H1145.00V515.0H1140.00ZM1164.00 511.4H1169.00V514.6H1164.00ZM1171.00 514.1H1176.00V525.5H1171.00ZM1210.00 493.0H1215.00V495.4H1210.00ZM1249.00 370.4H1254.00V376.9H1249.00ZM1288.00 319.2H1293.00V334.3H1288.00ZM1303.00 319.2H1308.00V358.5H1303.00ZM1319.00 349.1H1324.00V351.2H1319.00ZM1334.00 337.4H1339.00V360.2H1334.00ZM1381.00 314.8H1386.00V317.4H1381.00Z" fill="#000"/><path d="M6.00 132.0H11.00M138.00 144.6H143.00M395.00 631.0H400.00M604.00 565.0H609.00M682.00 584.3H687.00M830.00 563.7H835.00M884.00 570.7H889.00M969.00 536.7H974.00M977.00 536.7H982.00M993.00 534.4H998.00M1024.00 528.5H1029.00M1070.00 529.0H1075.00M1078.00 529.0H1083.00M1086.00 529.3H1091.00M1117.00 509.7H1122.00M1148.00 514.6H1153.00M1195.00 506.0H1200.00M1218.00 495.4H1223.00M1264.00 353.5H1269.00M1365.00 319.2H1370.00" stroke="#000" stroke-width="1.3" fill="none"/><rect x="45.50" y="157.7" width="4" height="4.4" fill="#fff" fill-opacity="0.3" stroke="#000" stroke-width="1"/><rect x="53.50" y="151.9" width="4" height="5.4" fill="#fff" fill-opacity="0.3" stroke="#000" stroke-width="1"/><rect x="61.50" y="148.6" width="4" height="3.0" fill="#fff" fill-opacity="0.3" stroke="#000" stroke-width="1"/><rect x="76.50" y="138.7" width="4" height="14.7" fill="#fff" fill-opacity="0.3" stroke="#000" stroke-width="1"/><rect x="92.50" y="133.6" width="4" height="7.4" fill="#fff" fill-opacity="0.3" stroke="#000" stroke-width="1"/><rect x="100.50" y="126.1" width="4" height="6.5" fill="#fff" fill-opacity="0.3" stroke="#000" stroke-width="1"/><rect x="123.50" y="146.9" width="4" height="3.0" fill="#fff" fill-opacity="0.3" stroke="#000" stroke-width="1"/><rect x="131.50" y="144.2" width="4" height="3.0" fill="#fff" fill-opacity="0.3" stroke="#000" stroke-width="1"/><rect x="185.50" y="266.5" width="4" height="4.3" fill="#fff" fill-opacity="0.3" stroke="#000" stroke-width="1"/><rect x="208.50" y="420.1" width="4" height="13.2" fill="#fff" fill-opacity="0.3" stroke="#000" stroke-width="1"/><rect x="224.50" y="456.9" width="4" height="7.3" fill="#fff" fill-opacity="0.3" stroke="#000" stroke-width="1"/><rect x="239.50" y="507.8" width="4" height="24.3" fill="#fff" fill-opacity="0.3" stroke="#000" stroke-width="1"/><rect x="255.50" y="539.4" width="4" height="3.0" fill="#fff" fill-opacity="0.3" stroke="#000" stroke-width="1"/><rect x="263.50" y="474.6" width="4" height="64.7" fill="#fff" fill-opacity="0.3" stroke="#000" stroke-width="1"/><rect x="271.50" y="471.2" width="4" height="3.0" fill="#fff" fill-opacity="0.3" stroke="#000" stroke-width="1"/><rect x="286.50" y="484.3" width="4" height="30.8" fill="#fff" fill-opacity="0.3" stroke="#000" stroke-width="1"/><rect x="309.50" y="524.5" width="4" height="11.9" fill="#fff" fill-opacity="0.3" stroke="#000" stroke-width="1"/><rect x="340.50" y="597.8" width="4" height="6.2" fill="#fff" fill-opacity="0.3" stroke="#000" stroke-width="1"/><rect x="348.50" y="577.1" width="4" height="19.2" fill="#fff" fill-opacity="0.3" stroke="#000" stroke-width="1"/><rect x="371.50" y="592.8" width="4" height="15.4" fill="#fff" fill-opacity="0.3" stroke="#000" stroke-width="1"/><rect x="403.50" y="628.5" width="4" height="3.0" fill="#fff" fill-opacity="0.3" stroke="#000" stroke-width="1"/><rect x="410.50" y="578.9" width="4" height="49.2" fill="#fff" fill-opacity="0.3" stroke="#000" stroke-width="1"/><rect x="418.50" y="554.7" width="4" height="24.3" fill="#fff" fill-opacity="0.3" stroke="#000" stroke-width="1"/><rect x="426.50" y="550.9" width="4" height="3.5" fill="#fff" fill-opacity="0.3" stroke="#000" stroke-width="1"/><rect x="434.50" y="489.0" width="4" height="60.9" fill="#fff" fill-opacity="0.3" stroke="#000" stroke-width="1"/><rect x="449.50" y="500.9" width="4" height="23.0" fill="#fff" fill-opacity="0.3" stroke="#000" stroke-width="1"/><rect x="465.50" y="499.8" width="4" height="10.2" fill="#fff" fill-opacity="0.3" stroke="#000" stroke-width="1"/><rect x="480.50" y="531.3" width="4" height="3.4" fill="#fff" fill-opacity="0.3" stroke="#000" stroke-width="1"/><rect x="496.50" y="515.5" width="4" height="49.5" fill="#fff" fill-opacity="0.3" stroke="#000" stroke-width="1"/><rect x="511.50" y="524.5" width="4" height="12.5" fill="#fff" fill-opacity="0.3" stroke="#000" stroke-width="1"/><rect x="527.50" y="526.3" width="4" height="19.6" fill="#fff" fill-opacity="0.3" stroke="#000" stroke-width="1"/><rect x="535.50" y="513.3" width="4" height="12.5" fill="#fff" fill-opacity="0.3" stroke="#000" stroke-width="1"/><rect x="550.50" y="528.5" width="4" height="4.0" fill="#fff" fill-opacity="0.3" stroke="#000" stroke-width="1"/><rect x="566.50" y="495.4" width="4" height="38.7" fill="#fff" fill-opacity="0.3" stroke="#000" stroke-width="1"/><rect x="628.50" y="560.4" width="4" height="23.6" fill="#fff" fill-opacity="0.3" stroke="#000" stroke-width="1"/><rect x="643.50" y="571.5" width="4" height="3.0" fill="#fff" fill-opacity="0.3" stroke="#000" stroke-width="1"/><rect x="651.50" y="563.9" width="4" height="6.8" fill="#fff" fill-opacity="0.3" stroke="#000" stroke-width="1"/><rect x="667.50" y="557.9" width="4" height="12.8" fill="#fff" fill-opacity="0.3" stroke="#000" stroke-width="1"/><rect x="690.50" y="577.0" width="4" height="7.6" fill="#fff" fill-opacity="0.3" stroke="#000" stroke-width="1"/><rect x="705.50" y="574.7" width="4" height="4.2" fill="#fff" fill-opacity="0.3" stroke="#000" stroke-width="1"/><rect x="752.50" y="593.7" width="4" height="7.2" fill="#fff" fill-opacity="0.3" stroke="#000" stroke-width="1"/><rect x="767.50" y="592.9" width="4" height="3.9" fill="#fff" fill-opacity="0.3" stroke="#000" stroke-width="1"/><rect x="775.50" y="588.8" width="4" height="3.1" fill="#fff" fill-opacity="0.3" stroke="#000" stroke-width="1"/><rect x="799.50" y="596.4" width="4" height="3.0" fill="#fff" fill-opacity="0.3" stroke="#000" stroke-width="1"/><rect x="822.50" y="563.9" width="4" height="43.3" fill="#fff" fill-opacity="0.3" stroke="#000" stroke-width="1"/><rect x="837.50" y="560.8" width="4" height="3.0" fill="#fff" fill-opacity="0.3" stroke="#000" stroke-width="1"/><rect x="853.50" y="567.6" width="4" height="3.0" fill="#fff" fill-opacity="0.3" stroke="#000" stroke-width="1"/><rect x="876.50" y="571.5" width="4" height="3.0" fill="#fff" fill-opacity="0.3" stroke="#000" stroke-width="1"/><rect x="892.50" y="561.7" width="4" height="8.0" fill="#fff" fill-opacity="0.3" stroke="#000" stroke-width="1"/><rect x="899.50" y="525.1" width="4" height="36.0" fill="#fff" fill-opacity="0.3" stroke="#000" stroke-width="1"/><rect x="907.50" y="522.0" width="4" height="3.0" fill="#fff" fill-opacity="0.3" stroke="#000" stroke-width="1"/><rect x="915.50" y="513.2" width="4" height="8.8" fill="#fff" fill-opacity="0.3" stroke="#000" stroke-width="1"/><rect x="931.50" y="512.9" width="4" height="5.8" fill="#fff" fill-opacity="0.3" stroke="#000" stroke-width="1"/><rect x="938.50" y="488.8" width="4" height="22.9" fill="#fff" fill-opacity="0.3" stroke="#000" stroke-width="1"/><rect x="954.50" y="533.9" width="4" height="13.0" fill="#fff" fill-opacity="0.3" stroke="#000" stroke-width="1"/><rect x="985.50" y="534.5" width="4" height="3.0" fill="#fff" fill-opacity="0.3" stroke="#000" stroke-width="1"/><rect x="1016.50" y="529.0" width="4" height="21.8" fill="#fff" fill-opacity="0.3" stroke="#000" stroke-width="1"/><rect x="1032.50" y="525.9" width="4" height="3.0" fill="#fff" fill-opacity="0.3" stroke="#000" stroke-width="1"/><rect x="1047.50" y="518.9" width="4" height="11.2" fill="#fff" fill-opacity="0.3" stroke="#000" stroke-width="1"/><rect x="1094.50" y="520.7" width="4" height="8.1" fill="#fff" fill-opacity="0.3" stroke="#000" stroke-width="1"/><rect x="1101.50" y="508.1" width="4" height="11.6" fill="#fff" fill-opacity="0.3" stroke="#000" stroke-width="1"/><rect x="1125.50" y="505.9" width="4" height="3.0" fill="#fff" fill-opacity="0.3" stroke="#000" stroke-width="1"/><rect x="1132.50" y="501.7" width="4" height="3.0" fill="#fff" fill-opacity="0.3" stroke="#000" stroke-width="1"/><rect x="1156.50" y="511.5" width="4" height="3.0" fill="#fff" fill-opacity="0.3" stroke="#000" stroke-width="1"/><rect x="1179.50" y="522.6" width="4" height="3.0" fill="#fff" fill-opacity="0.3" stroke="#000" stroke-width="1"/><rect x="1187.50" y="506.0" width="4" height="16.3" fill="#fff" fill-opacity="0.3" stroke="#000" stroke-width="1"/><rect x="1202.50" y="493.9" width="4" height="12.1" fill="#fff" fill-opacity="0.3" stroke="#000" stroke-width="1"/><rect x="1226.50" y="491.3" width="4" height="3.9" fill="#fff" fill-opacity="0.3" stroke="#000" stroke-width="1"/><rect x="1233.50" y="379.8" width="4" height="110.5" fill="#fff" fill-opacity="0.3" stroke="#000" stroke-width="1"/><rect x="1241.50" y="370.9" width="4" height="7.7" fill="#fff" fill-opacity="0.3" stroke="#000" stroke-width="1"/><rect x="1257.50" y="354.5" width="4" height="21.9" fill="#fff" fill-opacity="0.3" stroke="#000" stroke-width="1"/><rect x="1272.50" y="330.9" width="4" height="22.1" fill="#fff" fill-opacity="0.3" stroke="#000" stroke-width="1"/><rect x="1280.50" y="319.7" width="4" height="10.2" fill="#fff" fill-opacity="0.3" stroke="#000" stroke-width="1"/><rect x="1296.50" y="319.7" width="4" height="14.1" fill="#fff" fill-opacity="0.3" stroke="#000" stroke-width="1"/><rect x="1311.50" y="349.8" width="4" height="7.3" fill="#fff" fill-opacity="0.3" stroke="#000" stroke-width="1"/><rect x="1327.50" y="337.9" width="4" height="12.8" fill="#fff" fill-opacity="0.3" stroke="#000" stroke-width="1"/><rect x="1342.50" y="331.8" width="4" height="27.9" fill="#fff" fill-opacity="0.3" stroke="#000" stroke-width="1"/><rect x="1350.50" y="328.4" width="4" height="3.0" fill="#fff" fill-opacity="0.3" stroke="#000" stroke-width="1"/><rect x="1358.50" y="319.7" width="4" height="8.2" fill="#fff" fill-opacity="0.3" stroke="#000" stroke-width="1"/><rect x="1373.50" y="315.7" width="4" height="3.0" fill="#fff" fill-opacity="0.3" stroke="#000" stroke-width="1"/><rect x="1389.50" y="304.1" width="4" height="13.7" fill="#fff" fill-opacity="0.3" stroke="#000" stroke-width="1"/><rect x="1396.50" y="276.9" width="4" height="26.2" fill="#fff" fill-opacity="0.3" stroke="#000" stroke-width="1"/><path d="M4 276.5H1712" stroke="#000" stroke-width="1" stroke-dasharray="2 1" fill="none"/></g><g clip-path="url(#cm)"><path d="M91.00 773.5H97.60V774.5H91.00ZM98.76 772.0H105.36V774.5H98.76ZM145.36 773.5H151.96V774.5H145.36ZM292.90 772.0H299.50V774.5H292.90ZM308.43 770.1H315.03V774.5H308.43ZM347.26 772.0H353.86V774.5H347.26ZM355.02 770.1H361.62V774.5H355.02ZM362.79 770.1H369.39V774.5H362.79ZM370.55 767.1H377.15V774.5H370.55ZM393.85 768.1H400.45V774.5H393.85ZM401.61 766.0H408.21V774.5H401.61ZM409.38 760.1H415.98V774.5H409.38ZM417.14 753.1H423.74V774.5H417.14ZM424.91 749.0H431.51V774.5H424.91ZM432.67 740.0H439.27V774.5H432.67ZM440.44 739.0H447.04V774.5H440.44ZM448.20 737.0H454.80V774.5H448.20ZM494.80 756.0H501.40V774.5H494.80ZM533.62 764.0H540.22V774.5H533.62ZM564.68 766.0H571.28V774.5H564.68ZM572.45 765.0H579.05V774.5H572.45ZM820.94 771.0H827.54V774.5H820.94ZM828.71 768.1H835.31V774.5H828.71ZM836.47 766.0H843.07V774.5H836.47ZM890.83 770.1H897.43V774.5H890.83ZM898.59 766.0H905.19V774.5H898.59ZM906.36 764.0H912.96V774.5H906.36ZM914.13 762.1H920.73V774.5H914.13ZM937.42 761.1H944.02V774.5H937.42ZM1123.79 773.5H1130.39V774.5H1123.79ZM1131.55 773.5H1138.15V774.5H1131.55ZM1224.74 773.0H1231.34V774.5H1224.74ZM1232.50 762.0H1239.10V774.5H1232.50ZM1240.27 754.7H1246.87V774.5H1240.27ZM1248.03 751.9H1254.63V774.5H1248.03ZM1255.80 748.8H1262.40V774.5H1255.80ZM1271.33 748.8H1277.93V774.5H1271.33Z" fill="#26a69a"/><path d="M106.53 772.0H113.13V774.5H106.53ZM300.66 772.0H307.26V774.5H300.66ZM316.19 771.0H322.79V774.5H316.19ZM378.32 767.1H384.92V774.5H378.32ZM386.08 768.1H392.68V774.5H386.08ZM455.97 739.0H462.57V774.5H455.97ZM463.74 739.0H470.34V774.5H463.74ZM471.50 745.1H478.10V774.5H471.50ZM479.27 749.0H485.87V774.5H479.27ZM487.03 756.0H493.63V774.5H487.03ZM502.56 759.1H509.16V774.5H502.56ZM510.33 760.1H516.93V774.5H510.33ZM518.09 764.0H524.69V774.5H518.09ZM525.86 764.0H532.46V774.5H525.86ZM541.39 766.0H547.99V774.5H541.39ZM549.15 767.1H555.75V774.5H549.15ZM556.92 769.1H563.52V774.5H556.92ZM580.22 766.0H586.82V774.5H580.22ZM587.98 767.1H594.58V774.5H587.98ZM844.24 766.0H850.84V774.5H844.24ZM852.00 767.1H858.60V774.5H852.00ZM859.77 768.1H866.37V774.5H859.77ZM867.53 769.1H874.13V774.5H867.53ZM875.30 769.1H881.90V774.5H875.30ZM883.06 770.1H889.66V774.5H883.06ZM921.89 763.0H928.49V774.5H921.89ZM929.66 764.0H936.26V774.5H929.66ZM945.19 767.1H951.79V774.5H945.19ZM952.95 770.1H959.55V774.5H952.95ZM960.72 773.0H967.32V774.5H960.72ZM1263.57 748.8H1270.17V774.5H1263.57ZM1279.10 748.8H1285.70V774.5H1279.10ZM1286.86 753.0H1293.46V774.5H1286.86ZM1294.63 754.7H1301.23V774.5H1294.63ZM1302.39 762.0H1308.99V774.5H1302.39ZM1310.16 767.0H1316.76V774.5H1310.16ZM1317.92 771.2H1324.52V774.5H1317.92Z" fill="#b2dfdb"/><path d="M28.88 774.5H35.48V780.0H28.88ZM36.64 774.5H43.24V780.8H36.64ZM44.41 774.5H51.01V780.8H44.41ZM153.12 774.5H159.72V782.6H153.12ZM160.89 774.5H167.49V789.5H160.89ZM168.65 774.5H175.25V794.7H168.65ZM176.42 774.5H183.02V797.3H176.42ZM191.95 774.5H198.55V807.4H191.95ZM199.71 774.5H206.31V816.4H199.71ZM207.48 774.5H214.08V818.4H207.48ZM215.24 774.5H221.84V821.5H215.24ZM230.78 774.5H237.38V823.6H230.78ZM331.72 774.5H338.32V775.7H331.72ZM603.51 774.5H610.11V777.8H603.51ZM611.28 774.5H617.88V780.6H611.28ZM619.04 774.5H625.64V783.7H619.04ZM634.57 774.5H641.17V782.5H634.57ZM673.40 774.5H680.00V778.6H673.40ZM681.17 774.5H687.77V779.8H681.17ZM735.52 774.5H742.12V776.4H735.52ZM743.29 774.5H749.89V776.4H743.29ZM976.25 774.5H982.85V775.7H976.25ZM984.01 774.5H990.61V776.6H984.01ZM991.78 774.5H998.38V776.6H991.78ZM999.54 774.5H1006.14V777.8H999.54ZM1007.31 774.5H1013.91V779.8H1007.31ZM1061.67 774.5H1068.27V775.7H1061.67ZM1069.43 774.5H1076.03V776.6H1069.43ZM1077.20 774.5H1083.80V776.6H1077.20ZM1084.96 774.5H1091.56V776.6H1084.96ZM1154.85 774.5H1161.45V775.7H1154.85ZM1162.62 774.5H1169.22V776.0H1162.62ZM1170.38 774.5H1176.98V777.7H1170.38ZM1178.15 774.5H1184.75V778.5H1178.15ZM1333.45 774.5H1340.05V777.7H1333.45ZM1341.22 774.5H1347.82V777.7H1341.22ZM1348.98 774.5H1355.58V778.5H1348.98ZM1364.51 774.5H1371.11V778.5H1364.51ZM1372.28 774.5H1378.88V778.5H1372.28ZM1380.05 774.5H1386.65V779.4H1380.05Z" fill="#ef5350"/><path d="M52.17 774.5H58.77V780.0H52.17ZM59.94 774.5H66.54V778.7H59.94ZM67.70 774.5H74.30V778.7H67.70ZM75.47 774.5H82.07V776.0H75.47ZM83.23 774.5H89.83V775.5H83.23ZM184.18 774.5H190.78V797.3H184.18ZM223.01 774.5H229.61V819.5H223.01ZM238.54 774.5H245.14V819.5H238.54ZM246.31 774.5H252.91V817.2H246.31ZM254.07 774.5H260.67V812.5H254.07ZM261.84 774.5H268.44V799.4H261.84ZM269.60 774.5H276.20V788.3H269.60ZM277.37 774.5H283.97V784.3H277.37ZM285.13 774.5H291.73V777.8H285.13ZM339.49 774.5H346.09V775.7H339.49ZM626.81 774.5H633.41V781.5H626.81ZM642.34 774.5H648.94V782.5H642.34ZM650.10 774.5H656.70V780.6H650.10ZM657.87 774.5H664.47V779.8H657.87ZM665.63 774.5H672.23V777.8H665.63ZM688.93 774.5H695.53V778.6H688.93ZM696.70 774.5H703.30V777.4H696.70ZM704.46 774.5H711.06V776.4H704.46ZM712.23 774.5H718.83V775.7H712.23ZM719.99 774.5H726.59V775.5H719.99ZM727.76 774.5H734.36V775.5H727.76ZM751.05 774.5H757.65V776.4H751.05ZM758.82 774.5H765.42V776.4H758.82ZM766.58 774.5H773.18V775.5H766.58ZM1015.07 774.5H1021.67V778.6H1015.07ZM1022.84 774.5H1029.44V777.4H1022.84ZM1030.61 774.5H1037.21V776.6H1030.61ZM1038.37 774.5H1044.97V776.6H1038.37ZM1046.14 774.5H1052.74V775.7H1046.14ZM1053.90 774.5H1060.50V775.5H1053.90ZM1092.73 774.5H1099.33V776.6H1092.73ZM1185.91 774.5H1192.51V776.5H1185.91ZM1193.68 774.5H1200.28V776.5H1193.68ZM1356.75 774.5H1363.35V776.8H1356.75ZM1387.81 774.5H1394.41V778.2H1387.81ZM1395.58 774.5H1402.18V775.5H1395.58Z" fill="#ffcdd2"/><polyline points="4.0,775.0 25.5,777.5 40.8,784.8 56.0,786.4 64.5,784.6 72.2,786.4 85.0,783.4 102.0,778.4 119.0,779.6 149.0,780.0 171.5,809.4 179.3,819.0 187.1,824.1 202.7,861.4 218.3,889.9 226.0,898.6 233.9,915.0 249.4,931.0 257.2,935.3 265.0,928.9 272.8,922.3 280.6,919.9 296.2,907.2 303.1,906.4 311.8,903.2 318.7,902.0 327.3,906.4 335.1,908.1 342.9,907.2 350.7,903.2 358.5,900.3 366.3,898.2 374.1,893.4 389.6,889.9 404.4,884.7 413.9,870.9 427.8,851.6 436.3,833.8 451.6,812.6 467.7,796.4 482.1,792.5 490.6,794.4 498.3,790.5 505.9,788.8 513.6,786.2 521.2,787.4 528.9,784.5 536.5,781.5 545.0,780.0 560.3,779.5 568.8,774.0 580.2,770.1 591.2,768.4 599.7,774.7 607.4,779.5 622.7,789.3 631.2,790.5 644.7,794.4 653.2,793.4 661.7,794.4 669.4,792.2 683.8,796.4 700.8,796.4 714.4,794.4 733.1,794.4 746.7,797.3 762.0,797.3 773.8,795.6 790.8,794.4 816.3,794.4 838.4,780.3 858.8,775.2 870.2,775.2 887.2,774.0 894.8,771.8 905.9,763.8 917.8,756.5 933.0,750.6 940.7,745.5 948.3,749.2 961.9,753.1 978.9,756.5 995.9,758.7 1010.3,763.3 1019.7,763.3 1028.2,762.1 1035.0,762.1 1041.8,763.3 1048.6,761.6 1063.8,762.5 1079.1,764.2 1094.4,764.2 1104.6,762.1 1111.4,761.1 1121.6,761.1 1131.8,759.6 1142.0,759.6 1165.3,761.9 1181.4,766.6 1197.6,763.2 1212.9,761.2 1228.1,759.8 1236.6,744.5 1244.3,732.7 1258.7,715.7 1274.0,703.8 1282.5,695.3 1297.8,691.6 1306.3,695.3 1313.1,697.0 1321.6,701.2 1330.0,702.4 1336.9,707.2 1352.1,710.2 1360.6,710.6 1382.7,714.3 1392.0,714.3 1398.9,711.9" fill="none" stroke="#2196f3" stroke-width="1.2" stroke-linejoin="round"/><polyline points="4.0,775.0 25.5,776.0 51.0,781.0 76.4,783.4 102.0,782.5 127.0,780.0 149.0,780.0 164.6,785.2 180.2,797.3 195.8,811.2 202.7,819.0 211.4,833.7 226.9,856.2 237.3,873.5 247.7,887.3 258.1,899.4 270.2,907.2 280.6,910.2 294.4,910.2 311.8,908.1 334.3,907.2 358.5,903.8 381.0,898.6 396.6,895.1 412.2,889.9 425.2,880.0 436.3,869.5 451.6,851.6 474.5,824.0 490.6,813.1 512.7,801.5 536.5,792.2 568.8,784.2 580.0,779.8 590.4,777.8 599.7,775.7 621.0,781.2 653.2,788.3 685.5,792.2 714.4,794.4 748.4,794.7 755.2,795.6 816.3,795.1 833.3,792.2 848.6,786.6 870.2,781.2 887.2,778.6 904.2,773.0 921.2,767.6 938.1,759.9 946.6,757.4 965.3,755.3 978.9,755.7 995.9,756.5 1012.9,758.7 1029.9,760.4 1046.9,761.6 1070.6,761.6 1080.8,762.5 1097.8,763.3 1114.8,761.6 1131.8,761.1 1170.4,762.4 1189.1,763.2 1212.9,763.2 1228.1,762.4 1243.4,751.3 1258.7,742.0 1282.5,720.8 1297.8,711.4 1313.1,705.5 1330.0,704.6 1345.3,705.5 1362.3,708.0 1382.7,710.6 1398.9,711.4" fill="none" stroke="#ff6d00" stroke-width="1.2" stroke-linejoin="round"/></g><text x="12.2" y="24.5" font-size="13" font-weight="bold" fill="#4c525e" textLength="197" lengthAdjust="spacingAndGlyphs">Bitcoin / U.S. Dollar, 1D, BITFINEX</text><text x="12.2" y="41.5" font-size="13" fill="#4c525e" textLength="42.5" lengthAdjust="spacingAndGlyphs">Vol (20)</text><text x="12.2" y="58.5" font-size="13" fill="#4c525e" textLength="96" lengthAdjust="spacingAndGlyphs">TD Sequential (0)</text><text x="12.2" y="75.5" font-size="13" fill="#4c525e" textLength="330.3" lengthAdjust="spacingAndGlyphs">FEMA (10, 20, 50, 100, 200, close, close, close, close, close)</text><text x="12.2" y="697.5" font-size="13" fill="#4c525e" textLength="130" lengthAdjust="spacingAndGlyphs">MACD (12, 26, close, 9)</text><path d="M3.5 3.5H1762.5V977.5H3.5Z" stroke="#50535e" stroke-width="1.3" fill="none"/><path d="M1712.5 3.5V977.5M3.5 676.5H1762.5M3.5 950.5H1762.5" stroke="#50535e" stroke-width="1.3" fill="none"/><path d="M1712.5 674.6H1717 M1712.5 643.9H1717 M1712.5 613.2H1717 M1712.5 582.5H1717 M1712.5 551.7H1717 M1712.5 521.0H1717 M1712.5 490.3H1717 M1712.5 459.6H1717 M1712.5 428.9H1717 M1712.5 398.1H1717 M1712.5 367.4H1717 M1712.5 336.7H1717 M1712.5 306.0H1717 M1712.5 275.3H1717 M1712.5 244.5H1717 M1712.5 213.8H1717 M1712.5 183.1H1717 M1712.5 152.4H1717 M1712.5 121.7H1717 M1712.5 90.9H1717 M1712.5 60.2H1717 M1712.5 29.5H1717 M1712.5 725.3H1717 M1712.5 774.4H1717 M1712.5 823.5H1717 M1712.5 872.6H1717 M1712.5 921.7H1717 M56.4 950.5V954 M141.3 950.5V954 M289.5 950.5V954 M413.5 950.5V954 M530.6 950.5V954 M631.4 950.5V954 M770.2 950.5V954 M848.4 950.5V954 M988.3 950.5V954 M1066.5 950.5V954 M1143.5 950.5V954 M1229.1 950.5V954 M1337.5 950.5V954 M1462.3 950.5V954 M1555.4 950.5V954 M1702.4 950.5V954" stroke="#50535e" stroke-width="1.2" fill="none"/><g font-size="11" fill="#4c525e"><text x="1721.3" y="679.8">3000.0</text><text x="1721.3" y="649.1">3200.0</text><text x="1721.3" y="618.4">3400.0</text><text x="1721.3" y="587.7">3600.0</text><text x="1721.3" y="556.9">3800.0</text><text x="1721.3" y="526.2">4000.0</text><text x="1721.3" y="495.5">4200.0</text><text x="1721.3" y="464.8">4400.0</text><text x="1721.3" y="434.1">4600.0</text><text x="1721.3" y="403.3">4800.0</text><text x="1721.3" y="372.6">5000.0</text><text x="1721.3" y="341.9">5200.0</text><text x="1721.3" y="311.2">5400.0</text><text x="1721.3" y="280.5">5600.0</text><text x="1721.3" y="249.7">5800.0</text><text x="1721.3" y="219.0">6000.0</text><text x="1721.3" y="188.3">6200.0</text><text x="1721.3" y="157.6">6400.0</text><text x="1721.3" y="126.9">6600.0</text><text x="1721.3" y="96.1">6800.0</text><text x="1721.3" y="65.4">7000.0</text><text x="1721.3" y="34.7">7200.0</text><text x="1721.3" y="730.5">200.0</text><text x="1721.3" y="779.6">0.0</text><text x="1721.3" y="828.7">−200.0</text><text x="1721.3" y="877.8">−400.0</text><text x="1721.3" y="926.9">−600.0</text></g><g font-size="11.5" fill="#4c525e" text-anchor="middle"><text x="56.4" y="968.6">Nov</text><text x="141.3" y="968.6">12</text><text x="289.5" y="968.6">Dec</text><text x="413.5" y="968.6">17</text><text x="530.6" y="968.6" font-weight="bold">2019</text><text x="631.4" y="968.6">14</text><text x="770.2" y="968.6">Feb</text><text x="848.4" y="968.6">11</text><text x="988.3" y="968.6">Mar</text><text x="1066.5" y="968.6">11</text><text x="1143.5" y="968.6">21</text><text x="1229.1" y="968.6">Apr</text><text x="1337.5" y="968.6">15</text><text x="1462.3" y="968.6">May</text><text x="1555.4" y="968.6">13</text><text x="1702.4" y="968.6">Jun</text></g><rect x="1712.5" y="268" width="49.5" height="16.7" fill="#000"/><path d="M1712.5 276.5H1716.5" stroke="#fff" stroke-width="1"/><text x="1721.3" y="280.3" font-size="11" fill="#fff">5588.5</text></svg></body></html>
